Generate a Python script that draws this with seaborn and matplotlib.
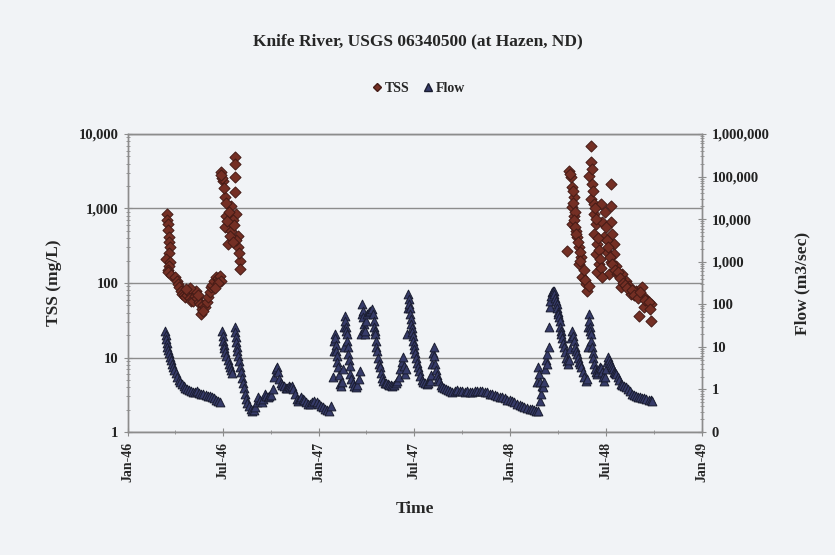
import pandas as pd
import matplotlib
matplotlib.use("Agg")
import matplotlib.pyplot as plt
import matplotlib.dates as mdates
from matplotlib.ticker import FuncFormatter, LogLocator, NullFormatter
from matplotlib.lines import Line2D
import seaborn as sns

# TSS samples: day number counted from 1 Jan 1946, value in mg/L
tss_day = [74, 75, 76, 77, 78, 79, 80, 78, 73, 80, 79, 77, 76, 82, 90, 93, 95, 98, 101, 104,
           107, 109, 112, 115, 118, 121, 124, 127, 130, 132, 135, 137, 139, 141, 144, 147, 150, 153,
           156, 158, 161, 164, 168, 171, 174, 176, 178, 172, 166, 143, 133, 119, 110,
           204, 204, 178, 181, 204, 204, 185, 197, 206, 187, 185, 197, 210, 191, 210, 214, 214,
           180, 183, 188, 193, 200, 202, 207, 212, 189, 195, 200, 178,
           842, 846, 848, 852, 848, 852, 848, 855, 857, 838, 861, 865, 861, 867, 875, 876,
           884, 884, 880, 886, 884, 890, 890, 894, 890, 896, 894, 899, 896,
           922, 903, 922, 905, 922, 924, 909, 928, 915, 928, 922, 932, 918, 934,
           943, 951, 941, 957, 960, 970, 981, 985, 991, 999, 985, 976, 999,
           844, 850, 850, 854, 851, 853, 856, 859, 863, 864, 870, 872, 880, 886, 888, 892, 893,
           898, 900, 901, 904, 906, 910, 912, 914, 917, 920, 925, 930, 936, 940, 946, 949, 953,
           962, 966, 974, 978, 988, 994, 996]
tss_mgl = [850, 700, 620, 520, 414, 360, 304, 250, 210, 190, 169, 150, 140, 130, 120, 105, 97, 88, 78, 72,
           68, 65, 70, 78, 62, 58, 57, 66, 78, 62, 55, 52, 38, 45, 50, 48, 56, 65,
           75, 88, 95, 105, 120, 115, 110, 123, 106, 100, 85, 42, 70, 85, 82,
           4900, 3960, 3070, 2330, 2640, 1660, 1420, 1080, 850, 800, 565, 500, 425, 334, 304, 197, 155,
           2600, 1900, 1200, 900, 700, 600, 380, 250, 680, 430, 350, 2800,
           3180, 2640, 1950, 1420, 1050, 795, 620, 500, 415, 270, 304, 222, 180, 120, 97, 78,
           6900, 4200, 2750, 2140, 1340, 1150, 850, 620, 455, 334, 245, 180, 140,
           2140, 1150, 1080, 650, 650, 455, 415, 334, 260, 245, 190, 170, 132, 132,
           132, 106, 88, 90, 71, 78, 88, 65, 57, 52, 48, 36, 31,
           2900, 1700, 1200, 900, 700, 560, 450, 360, 260, 200, 150, 110, 90, 3400, 1700, 1000, 720,
           400, 280, 210, 160, 120, 900, 560, 380, 300, 220, 180, 150, 140, 115, 100, 95, 85,
           80, 70, 62, 75, 60, 55, 45]

# Flow record: day number counted from 1 Jan 1946, value in m3/sec
flow_day = [71, 72, 73, 74, 75, 77, 78, 80, 82, 84, 86, 88, 91, 94, 97, 100, 103, 106, 109, 112,
            116, 120, 124, 128, 132, 136, 140, 144, 148, 152, 156, 160, 164, 168, 172, 175,
            180, 181, 182, 183, 184, 186, 188, 190, 192, 194, 196, 198,
            204, 205, 206, 207, 208, 209, 210, 212, 214, 216, 218, 220, 222, 224, 226, 228, 231, 234,
            237, 240, 243, 246, 249, 252, 255, 258, 261, 264, 267, 270, 273, 276, 279, 282, 285, 287,
            289, 292, 295, 298, 301, 304, 307, 310, 313, 316, 319, 322, 325, 328, 331, 334, 337, 340,
            344, 348, 352, 356, 360, 364, 368, 372, 376, 380, 384, 388,
            392, 393, 394, 395, 396, 397, 398, 399, 400, 401, 403, 405, 407, 409, 411, 412, 413, 414,
            415, 416, 417, 418, 419, 420, 421, 422, 423, 424, 426, 429, 432, 435, 438, 441, 443, 445,
            446, 447, 448, 449, 450, 451, 452, 453, 455, 457, 460, 463, 466, 468, 469, 470, 471, 472,
            473, 474, 475, 477, 479, 481, 483, 485, 487, 490, 493, 496, 499, 502, 505, 508, 511, 514,
            517, 520, 523, 525, 527, 529, 531, 533, 534, 535, 536, 537, 538, 539, 540, 541, 542, 543,
            544, 545, 546, 547, 548, 549, 551, 553, 555, 558, 561, 564, 567, 570, 573, 576, 579, 581,
            583, 584, 585, 586, 588, 590, 592, 594, 597, 600, 603, 607, 611, 615, 619, 624, 629, 634,
            638, 643, 648, 653, 657, 662, 667, 672, 676, 681, 686, 691, 695, 700, 705, 710, 714, 719,
            724, 729, 733, 738, 743, 748, 752, 757, 762, 767, 771, 775, 779, 783,
            781, 782, 785, 786, 787, 789, 791, 793, 795, 797, 799, 800, 801, 803, 804, 805, 806, 808,
            810, 812, 813, 814, 816, 818, 819, 820, 821, 822, 823, 824, 825, 826, 827, 829, 831, 833,
            835, 837, 838, 840, 842, 844, 846, 848, 850, 852, 854, 856, 857, 859, 861, 863, 865, 868,
            871, 875, 877, 878, 879, 880, 881, 882, 883, 884, 885, 886, 887, 888, 890, 892, 894, 896,
            898, 900, 902, 903, 905, 907, 909, 911, 913, 915, 917, 918, 920, 922, 924, 926, 928, 930,
            932, 935, 938, 941, 944, 947, 951, 954, 958, 962, 966, 970, 974, 978, 982, 986, 990, 994,
            998, 1001]
flow_cms = [23, 19, 15, 12, 10, 8.5, 7, 5.8, 4.8, 4.0, 3.4, 2.9, 2.4, 2.0, 1.7, 1.5, 1.35, 1.2, 1.1, 1.0,
            0.95, 0.9, 0.88, 0.85, 0.9, 0.82, 0.8, 0.78, 0.75, 0.72, 0.7, 0.66, 0.62, 0.58, 0.54, 0.5,
            23, 18, 14, 11, 9.5, 7.5, 6, 4.8, 4, 3.3, 2.8, 2.4,
            29, 22, 17, 13, 10, 8, 6, 4.6, 3.4, 2.5, 1.9, 1.4, 1.1, 0.8, 0.6, 0.48, 0.4, 0.35,
            0.31, 0.33, 0.39, 0.5, 0.66, 0.55, 0.5, 0.6, 0.78, 0.7, 0.66, 0.7, 0.75, 1.0, 2.0, 3.0, 3.4, 2.5,
            1.8, 1.4, 1.3, 1.2, 1.1, 1.09, 1.2, 1.14, 1.2, 1.0, 0.8, 0.6, 0.53, 0.6, 0.66, 0.6, 0.55, 0.5,
            0.45, 0.45, 0.5, 0.53, 0.5, 0.45, 0.4, 0.39, 0.35, 0.33, 0.31, 0.4,
            2.0, 8, 14, 20, 16, 11, 8, 6, 4.5, 3.4, 2.2, 1.34, 1.2, 1.5, 3.0, 10, 30, 52,
            40, 30, 24, 20, 14, 10, 6.8, 5, 3.5, 2.3, 1.8, 1.4, 1.2, 1.14, 1.3, 1.8, 2.7, 20,
            60, 100, 70, 50, 35, 25, 20, 24, 40, 58, 65, 70, 77, 60, 40, 29, 24, 20,
            14, 10, 8, 5.5, 4, 3.4, 2.4, 1.9, 1.57, 1.45, 1.4, 1.34, 1.3, 1.25, 1.2, 1.25, 1.4, 1.57,
            2.0, 3.0, 4.5, 5.8, 3.5, 2.3, 3, 20, 80, 174, 130, 100, 80, 58, 45, 35, 28, 22,
            18, 14, 11, 9, 7, 5.5, 4.2, 3.4, 2.7, 2.1, 1.7, 1.5, 1.4, 1.34, 1.4, 1.6, 2.2, 4,
            7, 9.9, 6, 3.9, 2.8, 2.2, 1.8, 1.57, 1.3, 1.15, 1.09, 1.0, 0.95, 0.9, 0.87, 0.9, 0.95, 0.9,
            0.92, 0.88, 0.92, 0.87, 0.87, 0.9, 0.93, 0.9, 0.92, 0.88, 0.85, 0.8, 0.78, 0.75, 0.72, 0.68, 0.66, 0.62,
            0.58, 0.55, 0.53, 0.5, 0.46, 0.42, 0.4, 0.38, 0.36, 0.35, 0.35, 0.33, 0.32, 0.31,
            1.5, 3.4, 2.3, 1.5, 0.53, 0.8, 1.2, 1.14, 1.5, 3, 5, 6.8, 4, 10, 30, 86, 120, 160,
            190, 204, 200, 170, 140, 119, 100, 80, 65, 58, 50, 40, 30, 24, 20, 16, 12, 9.9,
            7.5, 5.5, 4.6, 4.0, 5, 9, 16, 23.5, 18, 13.6, 10, 8, 6.8, 5.5, 4.5, 4.0, 3.4, 2.6,
            2.0, 1.57, 1.8, 10, 30, 58, 40, 30, 24, 20, 14, 9.9, 7, 5.5, 3.9, 3.0, 2.6, 2.3,
            2.6, 3.0, 3.4, 3.2, 2.5, 2.0, 1.57, 2.0, 3.0, 4.5, 5.8, 5.0, 4.2, 3.8, 3.4, 3.0, 2.6, 2.4,
            2.3, 2.0, 1.7, 1.34, 1.3, 1.2, 1.14, 1.0, 0.9, 0.78, 0.75, 0.7, 0.68, 0.66, 0.64, 0.62, 0.6, 0.58,
            0.55, 0.53]

start = pd.Timestamp("1946-01-01")
tss_date = start + pd.to_timedelta(tss_day, unit="D")
flow_date = start + pd.to_timedelta(flow_day, unit="D")

bg = "#f1f3f6"
grid_c = "#8c8c8c"
tss_face, tss_edge = "#742f24", "#441b16"
flow_face, flow_edge = "#363b69", "#1a1d30"

sns.set_theme(style="white", rc={"axes.facecolor": bg, "figure.facecolor": bg})
plt.rcParams["font.family"] = ["Liberation Serif", "DejaVu Serif"]
plt.rcParams["font.weight"] = "bold"

fig = plt.figure(figsize=(8.35, 5.55), dpi=100)
ax = fig.add_axes([0.1533, 0.2216, 0.6874, 0.537])
ax2 = ax.twinx()

sns.scatterplot(x=tss_date, y=tss_mgl, marker="D", s=32, color=tss_face,
                edgecolor=tss_edge, linewidth=0.7, ax=ax, legend=False, zorder=3)
sns.scatterplot(x=flow_date, y=flow_cms, marker="^", s=40, color=flow_face,
                edgecolor=flow_edge, linewidth=0.7, ax=ax2, legend=False, zorder=3)

commas = FuncFormatter(lambda v, p: f"{v:,.0f}")

ax.set_yscale("log")
ax.set_ylim(1, 10000)
ax.set_yticks([1, 10, 100, 1000, 10000])
ax.yaxis.set_major_formatter(commas)
ax.yaxis.set_minor_locator(LogLocator(base=10, subs=range(2, 10)))
ax.yaxis.set_minor_formatter(NullFormatter())

ax2.set_yscale("log")
ax2.set_ylim(0.1, 1e6)
ax2.set_yticks([0.1, 1, 10, 100, 1e3, 1e4, 1e5, 1e6])
ax2.yaxis.set_major_formatter(commas)
ax2.yaxis.set_minor_locator(LogLocator(base=10, subs=range(2, 10)))
ax2.yaxis.set_minor_formatter(NullFormatter())

ax.set_xlim(pd.Timestamp("1946-01-01"), pd.Timestamp("1949-01-01"))
ax.xaxis.set_major_locator(mdates.MonthLocator(bymonth=[1, 7]))
ax.xaxis.set_minor_locator(mdates.MonthLocator(bymonth=[4, 10]))
ax.xaxis.set_major_formatter(mdates.DateFormatter("%b-%y"))
plt.setp(ax.get_xticklabels(), rotation=90, fontsize=10, fontweight="bold")
plt.setp(ax.get_yticklabels(), fontsize=10.5, fontweight="bold", color="#222222")
plt.setp(ax2.get_yticklabels(), fontsize=10.5, fontweight="bold", color="#222222")

ax.grid(axis="y", which="major", color=grid_c, linewidth=1.0)
ax.grid(axis="x", visible=False)
for a in (ax, ax2):
    for side in ("left", "right", "bottom", "top"):
        a.spines[side].set_color(grid_c)
        a.spines[side].set_linewidth(1.0)
ax2.patch.set_visible(False)

ax.tick_params(axis="both", which="major", direction="inout", length=6, width=0.8, color=grid_c, pad=4)
ax.tick_params(axis="both", which="minor", direction="inout", length=3, width=0.6, color=grid_c)
ax.tick_params(axis="y", which="both", left=True)
ax.tick_params(axis="x", which="both", bottom=True)
ax2.tick_params(axis="y", which="major", direction="inout", length=6, width=0.8, color=grid_c, right=True, pad=4)
ax2.tick_params(axis="y", which="minor", direction="inout", length=3, width=0.6, color=grid_c, right=True)

ax.set_xlabel("Time", fontsize=12.5, fontweight="bold", labelpad=14)
ax.set_ylabel("TSS (mg/L)", fontsize=12.5, fontweight="bold", labelpad=12)
ax2.set_ylabel("Flow (m3/sec)", fontsize=12.5, fontweight="bold", labelpad=18)

fig.text(0.5, 0.925, "Knife River, USGS 06340500 (at Hazen, ND)", ha="center", va="center",
         fontsize=12.5, fontweight="bold")

handles = [
    Line2D([], [], marker="D", linestyle="none", markersize=4.5, markerfacecolor=tss_face,
           markeredgecolor=tss_edge, label="TSS"),
    Line2D([], [], marker="^", linestyle="none", markersize=5.5, markerfacecolor=flow_face,
           markeredgecolor=flow_edge, label="Flow"),
]
fig.legend(handles=handles, loc="center", bbox_to_anchor=(0.5, 0.84), ncol=2, frameon=False,
           handletextpad=0.1, columnspacing=0.8, handlelength=1.0,
           prop={"size": 10, "weight": "bold"})

fig.savefig("out.png", dpi=100, facecolor=bg)
